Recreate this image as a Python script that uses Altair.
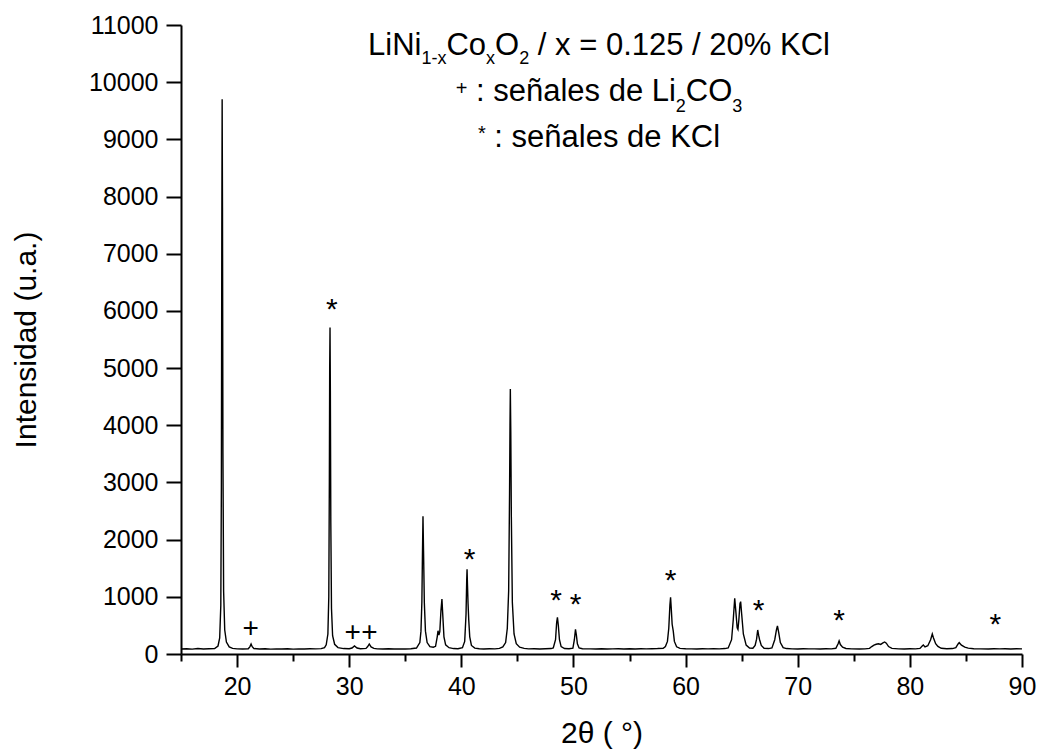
import altair as alt
import pandas as pd

# ---------------- data ----------------
two_theta = [
    15.0, 15.5, 16.0, 16.5, 17.0, 17.5, 18.0, 18.3, 18.45, 18.55, 18.6, 18.64, 18.67, 18.7, 18.74, 18.8, 18.9, 19.05, 19.3, 19.6,
    20.0, 20.5, 21.0, 21.15, 21.25, 21.35, 21.5, 22.0, 22.5, 23.0, 23.5, 24.0, 24.5, 25.0, 25.5, 26.0, 26.5, 27.0, 27.5,
    27.8, 27.95, 28.1, 28.18, 28.23, 28.26, 28.29, 28.32, 28.36, 28.42, 28.52, 28.7, 29.0, 29.5, 30.0, 30.25, 30.47, 30.7,
    31.0, 31.5, 31.65, 31.79, 31.95, 32.2, 32.5, 33.0, 33.5, 34.0, 34.5, 35.0, 35.5,
    36.0, 36.3, 36.4, 36.48, 36.53, 36.58, 36.63, 36.7, 36.8, 36.95, 37.2, 37.5,
    37.7, 37.85, 37.92, 38.0, 38.08, 38.18, 38.27, 38.34, 38.45, 38.6, 38.9, 39.3, 39.7,
    40.1, 40.3, 40.42, 40.48, 40.51, 40.55, 40.6, 40.66, 40.75, 40.9, 41.2, 41.6, 42.0, 42.5, 43.0, 43.4,
    43.7, 43.95, 44.1, 44.22, 44.3, 44.34, 44.37, 44.41, 44.46, 44.55, 44.7, 44.9, 45.2, 45.6, 46.0, 46.5, 47.0, 47.5, 48.0,
    48.2, 48.4, 48.5, 48.57, 48.65, 48.75, 48.9, 49.2, 49.6, 49.95, 50.08, 50.18, 50.26, 50.35, 50.5, 50.8,
    51.5, 52.0, 52.5, 53.0, 53.5, 54.0, 54.5, 55.0, 55.5, 56.0, 56.5, 57.0, 57.5, 58.0,
    58.2, 58.38, 58.5, 58.6, 58.66, 58.72, 58.8, 58.9, 59.0, 59.2, 59.5, 60.0, 60.5, 61.0, 61.5, 62.0, 62.5, 63.0, 63.5,
    63.8, 64.1, 64.25, 64.38, 64.5, 64.6, 64.67, 64.75, 64.85, 64.91, 65.0, 65.15, 65.4, 65.7,
    66.0, 66.2, 66.33, 66.43, 66.52, 66.6, 66.75, 67.0, 67.4, 67.7, 67.95, 68.1, 68.19, 68.3, 68.45, 68.7,
    69.0, 69.5, 70.0, 70.5, 71.0, 71.5, 72.0, 72.5, 73.0, 73.4, 73.6, 73.69, 73.8, 74.0, 74.3, 74.8, 75.5, 76.0,
    76.4, 76.6, 76.8, 77.0, 77.2, 77.4, 77.6, 77.75, 77.9, 78.1, 78.4, 79.0, 79.5, 80.0, 80.5,
    80.9, 81.1, 81.2, 81.35, 81.6, 81.85, 82.0, 82.1, 82.3, 82.5, 82.8, 83.3, 83.8,
    84.1, 84.3, 84.4, 84.6, 84.9, 85.2, 85.7, 86.3, 87.0, 87.5, 88.0, 88.5, 89.0, 89.5, 90.0,
]
intensity = [
    88, 92, 85, 95, 88, 92, 95, 140, 280, 850, 2900, 7400, 9700, 7800, 3500, 1100, 420, 210, 125, 98,
    90, 88, 92, 130, 175, 128, 95, 88, 92, 85, 90, 88, 93, 86, 90, 88, 92, 90, 94,
    110, 160, 350, 1000, 3000, 5000, 5710, 4600, 2300, 800, 320, 170, 112, 95, 92, 105, 140, 105,
    92, 98, 130, 175, 125, 98, 90, 88, 92, 87, 90, 88, 92,
    105, 200, 400, 900, 1700, 2410, 1800, 900, 400, 200, 130, 118,
    135, 300, 407, 330, 390, 750, 962, 700, 300, 160, 110, 95, 92,
    110, 220, 700, 1300, 1481, 1200, 880, 600, 300, 150, 102, 92, 88, 92, 90, 98,
    125, 200, 450, 1100, 2800, 4000, 4635, 3900, 2400, 900, 350, 180, 120, 98, 90, 93, 88, 92, 95,
    105, 250, 550, 641, 500, 250, 130, 96, 92, 102, 250, 431, 330, 180, 105, 92,
    90, 88, 92, 87, 90, 93, 88, 91, 88, 92, 89, 93, 95, 100,
    130, 220, 450, 850, 991, 800, 520, 400, 220, 125, 98, 92, 90, 88, 92, 89, 93, 90, 95,
    105, 250, 600, 974, 700, 460, 431, 600, 880, 915, 700, 350, 155, 105,
    100, 150, 260, 420, 320, 250, 150, 100, 95, 105, 250, 420, 490, 380, 200, 112,
    95, 90, 88, 92, 89, 90, 88, 92, 90, 100, 180, 230, 165, 120, 96, 90, 88, 90,
    98, 130, 155, 170, 180, 168, 195, 210, 190, 130, 98, 90, 88, 92, 90,
    98, 140, 157, 125, 145, 250, 350, 285, 180, 132, 100, 92, 95,
    110, 175, 198, 155, 120, 102, 92, 90, 88, 92, 89, 91, 88, 92, 90,
]

# peak markers (glyph centres)
kcl_x = [28.46, 40.74, 48.46, 50.18, 58.66, 66.52, 73.69, 87.62]
kcl_y = [6161, 1789, 1061, 991, 1411, 886, 711, 641]
li2co3_x = [21.22, 30.3, 31.8]
li2co3_y = [466, 402, 402]

x_ticks = list(range(15, 91, 5))
y_ticks = list(range(0, 11001, 500))

x_title = "2θ ( °)"
y_title = "Intensidad (u.a.)"

# header lines: (text, font size, baseline offset)
header_lines = [
    [("LiNi", 31, 0), ("1-x", 18, 9), ("Co", 31, 0), ("x", 18, 9), ("O", 31, 0), ("2", 18, 9),
     (" / x = 0.125 / 20% KCl", 31, 0)],
    [("+", 20, -6), (" : señales de Li", 31, 0), ("2", 18, 11), ("CO", 31, 0), ("3", 18, 11)],
    [("*", 20, -7), (" : señales de KCl", 31, 0)],
]
header_baselines = [30, 76, 122]
header_center = 418

FONT = "Liberation Sans"
W, H = 841, 629

# Arial / Liberation Sans advance widths (1/1000 em)
ADV = {" ": 278, "L": 556, "i": 222, "N": 722, "1": 556, "-": 333, "x": 500, "C": 722, "o": 556,
       "O": 778, "2": 556, "/": 278, "=": 584, "0": 556, ".": 278, "5": 556, "%": 889, "K": 667,
       "l": 222, "+": 584, ":": 278, "s": 500, "e": 556, "ñ": 556, "a": 556, "d": 556, "3": 556,
       "*": 389}


def tw(s, size):
    return sum(ADV.get(c, 556) for c in s) * size / 1000.0


df = pd.DataFrame({"two_theta": two_theta, "intensity": intensity})
xscale = alt.Scale(domain=[15, 90], nice=False, zero=False)
yscale = alt.Scale(domain=[0, 11000], nice=False, zero=False)

x_axis = alt.Axis(
    values=x_ticks, labelExpr="datum.value % 10 === 0 ? datum.label : ''",
    tickSize={"condition": {"test": "datum.value % 10 === 0", "value": 13}, "value": 7},
    grid=False, domainColor="black", domainWidth=2, tickColor="black", tickWidth=2,
    labelFont=FONT, labelFontSize=25, labelColor="black", labelPadding=7,
    labelOverlap=False, labelFlush=False,
    title=x_title, titleFont=FONT, titleFontSize=30, titleFontWeight="normal",
    titleColor="black", titlePadding=19,
)
y_axis = alt.Axis(
    values=y_ticks, format="d", labelExpr="datum.value % 1000 === 0 ? datum.label : ''",
    tickSize={"condition": {"test": "datum.value % 1000 === 0", "value": 15}, "value": 8},
    grid=False, domainColor="black", domainWidth=2, tickColor="black", tickWidth=2,
    labelFont=FONT, labelFontSize=25, labelColor="black", labelPadding=8,
    labelOverlap=False, labelFlush=False,
    title=y_title, titleFont=FONT, titleFontSize=30, titleFontWeight="normal",
    titleColor="black", titlePadding=47,
)

line = alt.Chart(df).mark_line(color="black", strokeWidth=1.4).encode(
    x=alt.X("two_theta:Q", scale=xscale, axis=x_axis),
    y=alt.Y("intensity:Q", scale=yscale, axis=y_axis),
)

stars = alt.Chart(pd.DataFrame({"x": kcl_x, "y": kcl_y})).mark_text(
    text="*", font=FONT, fontSize=30, color="black", baseline="alphabetic", dy=17
).encode(x=alt.X("x:Q", scale=xscale), y=alt.Y("y:Q", scale=yscale))

pluses = alt.Chart(pd.DataFrame({"x": li2co3_x, "y": li2co3_y})).mark_text(
    text="+", font=FONT, fontSize=28, color="black", baseline="alphabetic", dy=10
).encode(x=alt.X("x:Q", scale=xscale), y=alt.Y("y:Q", scale=yscale))

layers = [line, stars, pluses]

for pieces, base in zip(header_lines, header_baselines):
    total = sum(tw(t, s) for t, s, _ in pieces)
    cx = header_center - total / 2.0
    for t, s, dy in pieces:
        lead = len(t) - len(t.lstrip(" "))
        shown = t.lstrip(" ")
        px = cx + tw(" " * lead, s)
        layers.append(
            alt.Chart(pd.DataFrame({"t": [shown]})).mark_text(
                font=FONT, fontSize=s, color="black", align="left", baseline="alphabetic"
            ).encode(x=alt.value(px), y=alt.value(base + dy), text="t:N")
        )
        cx += tw(t, s)

chart = alt.layer(*layers).properties(
    width=W, height=H,
    autosize=alt.AutoSizeParams(type="none"),
    padding={"left": 181, "top": 25, "right": 18, "bottom": 98},
    background="white",
).configure_view(strokeWidth=0)

chart.save("out.html", embed_options={"renderer": "svg", "actions": False})
